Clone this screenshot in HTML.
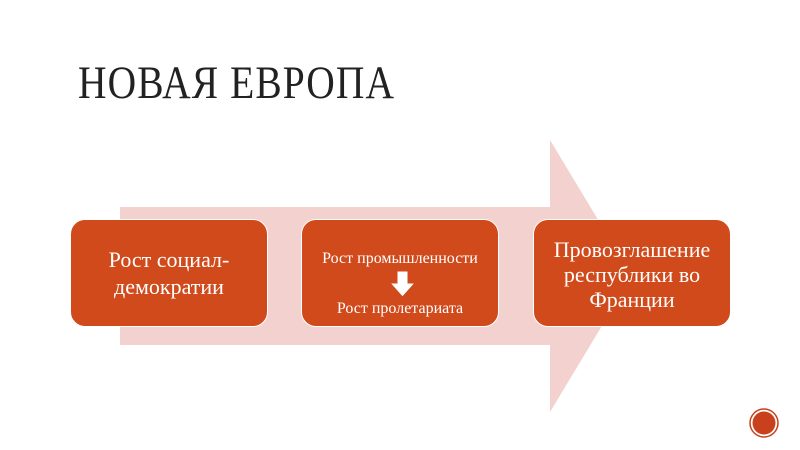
<!DOCTYPE html>
<html><head><meta charset="utf-8"><style>
body{margin:0;width:800px;height:450px;background:#fff;position:relative;overflow:hidden;font-family:"Liberation Serif",serif}
.t{position:absolute;left:78px;top:56px;font-family:"Liberation Serif",serif;font-size:47px;color:#222;transform:scaleX(0.84);transform-origin:left top;white-space:nowrap;letter-spacing:1.3px}
.b{position:absolute;top:219px;width:196px;height:106px;background:#d04a1b;border:1px solid #fff;border-radius:15px;color:#fff;display:flex;flex-direction:column;align-items:center;justify-content:center;text-align:center}
</style></head><body>
<div class="t">НОВАЯ ЕВРОПА</div>
<svg width="800" height="450" style="position:absolute;left:0;top:0">
<polygon points="120,207 550,207 550,140 632,276 550,412 550,345 120,345" fill="#f2d1ce"/>
<circle cx="764" cy="423" r="14" fill="#fff" stroke="#c8401c" stroke-width="1.5"/>
<circle cx="764" cy="423" r="11.5" fill="#c8401c"/>
</svg>
<div class="b" style="left:70px;font-size:22px;line-height:27px">Рост социал-<br>демократии</div>
<div class="b" style="left:301px;font-size:16px;justify-content:flex-start">
<div style="margin-top:30px">Рост промышленности</div>
<svg width="28" height="28" style="margin:2px 0 0 6px"><polygon points="8,1 19,1 19,13 26,13 13.5,27 1,13 8,13" fill="#fff" stroke="#d04a1b" stroke-width="1"/></svg>
<div style="margin-top:2px">Рост пролетариата</div></div>
<div class="b" style="left:533px;font-size:22px;line-height:25px;justify-content:flex-start"><div style="margin-top:17px">Провозглашение<br>республики во<br>Франции</div></div>
</body></html>
